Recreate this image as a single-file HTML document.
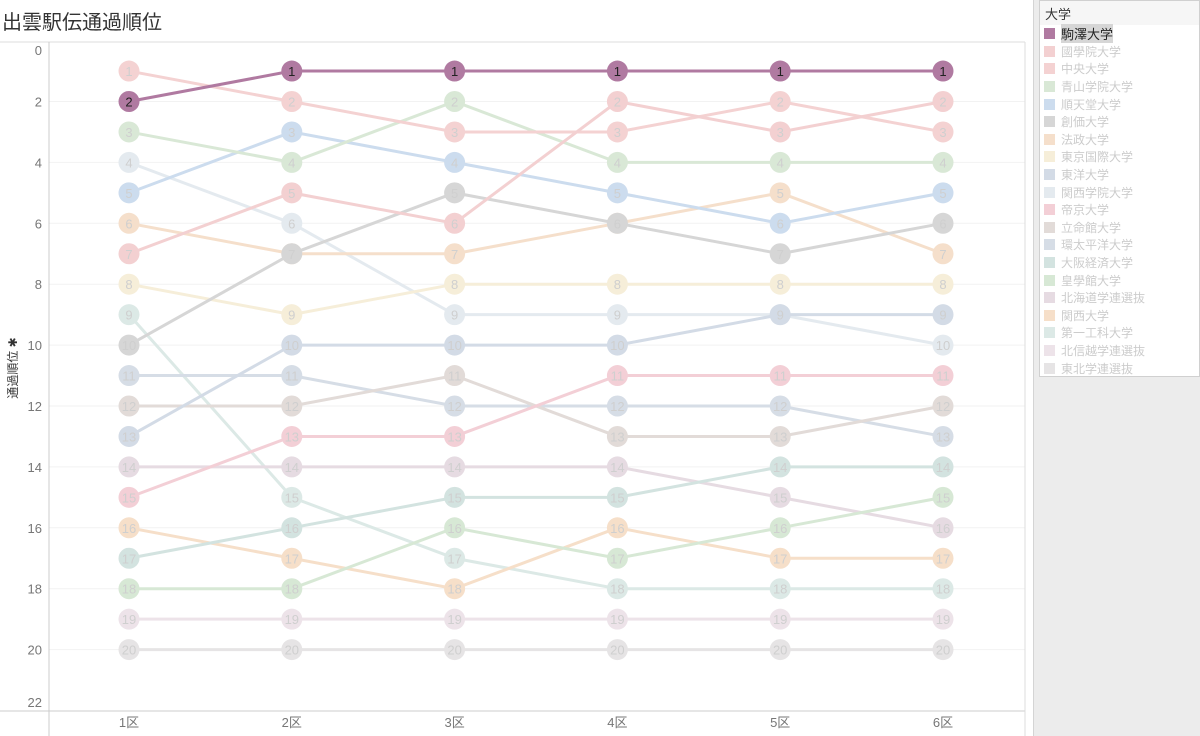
<!DOCTYPE html>
<html><head><meta charset="utf-8"><style>
body{margin:0;width:1200px;height:736px;background:#fff;overflow:hidden;font-family:"Liberation Sans","Noto Sans CJK JP",sans-serif;position:relative}
#title{position:absolute;left:2px;top:6px;font-size:20px;color:#333}
#side{position:absolute;left:1033px;top:0;width:167px;height:736px;background:#ececec;border-left:1px solid #d4d4d4}
#legend{position:absolute;left:1039px;top:0;width:161px;height:377px;background:#fff;border:1px solid #d0d0d0;box-sizing:border-box}
.lt{font-size:13px;color:#333;padding:3px 5px;background:#f6f6f6;height:18px}
.le{height:17.6px;font-size:12px;color:#ccc;display:flex;align-items:center;padding-left:4px}
.sw{width:11px;height:11px;margin-right:6px}
</style></head><body>
<div id="title">出雲駅伝通過順位</div>
<div id="side"></div>
<div id="legend"><div class="lt">大学</div><div id="legItems"></div></div>
<svg id="chart" width="1030" height="736" style="position:absolute;left:0;top:0"></svg>
<script>
const stages=["1区","2区","3区","4区","5区","6区"];
const teams=["駒澤大学","國學院大学","中央大学","青山学院大学","順天堂大学","創価大学","法政大学","東京国際大学","東洋大学","関西学院大学","帝京大学","立命館大学","環太平洋大学","大阪経済大学","皇學館大学","北海道学連選抜","関西大学","第一工科大学","北信越学連選抜","東北学連選抜"];
const ranks=[
[2,1,1,1,1,1],[7,5,6,2,3,2],[1,2,3,3,2,3],[3,4,2,4,4,4],[5,3,4,5,6,5],
[10,7,5,6,7,6],[6,7,7,6,5,7],[8,9,8,8,8,8],[13,10,10,10,9,9],[4,6,9,9,9,10],
[15,13,13,11,11,11],[12,12,11,13,13,12],[11,11,12,12,12,13],[17,16,15,15,14,14],[18,18,16,17,16,15],
[14,14,14,14,15,16],[16,17,18,16,17,17],[9,15,17,18,18,18],[19,19,19,19,19,19],[20,20,20,20,20,20]];
const colors=["#b07aa1","#f3d0d1","#f4d2d2","#d9e8d6","#ccdcee","#d6d6d6","#f5dfcb","#f6eed9","#d3dbe6","#e4eaef","#f3cfd6","#e2dbd8","#d6dde6","#d3e3e0","#d7e8d5","#e6dbe2","#f6dfc9","#dce9e6","#ede3e9","#e6e4e5"];
const yTicks=[0,2,4,6,8,10,12,14,16,18,20,22];
const ns="http://www.w3.org/2000/svg";
const svg=document.getElementById('chart');
const x=i=>129+i*162.8;
const y=v=>40.6+v*30.45;
function mk(t,a,p){const e=document.createElementNS(ns,t);for(const k in a)e.setAttribute(k,a[k]);(p||svg).appendChild(e);return e;}
let fr=mk('line',{x1:0,y1:42,x2:1025,y2:42,stroke:'#ddd'});

yTicks.forEach(t=>{
 if(t>0&&t<22){const g=mk('line',{x1:49,x2:1025,y1:y(t),y2:y(t),stroke:'#f2f2f2'});
 }
 let yy=t==0?55:(t==22?707:y(t)+5);
 const l=mk('text',{x:42,y:yy,'text-anchor':'end','font-size':13,fill:'#777'});l.textContent=t;
 
});
let ax=mk('line',{x1:49,y1:42,x2:49,y2:736,stroke:'#ccc'});

let bx=mk('line',{x1:0,y1:711,x2:1025,y2:711,stroke:'#ccc'});

let rx=mk('line',{x1:1025,y1:42,x2:1025,y2:736,stroke:'#ddd'});

stages.forEach((s,i)=>{const l=mk('text',{x:x(i),y:727,'text-anchor':'middle','font-size':13,fill:'#777'});l.textContent=s;
 });
const yt=mk('text',{x:0,y:0,'font-size':12,fill:'#333','text-anchor':'middle',transform:'translate(17,368) rotate(-90)'});yt.textContent='通過順位 ✱';

const order=[...teams.keys()].reverse();
order.forEach(k=>{
 const g=mk('g',{});
 
 const pts=ranks[k].map((r,i)=>x(i)+','+y(r)).join(' ');
 const pl=mk('polyline',{points:pts,fill:'none',stroke:colors[k],'stroke-width':3},g);
 
 ranks[k].forEach((r,i)=>{
  const c=mk('circle',{cx:x(i),cy:y(r),r:10.5,fill:colors[k]},g);
  
  const t=mk('text',{x:x(i),y:y(r)+5,'text-anchor':'middle','font-size':13,fill:k==0?'#222':'#cfcfcf'},g);t.textContent=r;
  
 });
});
const li=document.getElementById('legItems');
teams.forEach((t,k)=>{
 const d=document.createElement('div');d.className='le';
 
 
 d.innerHTML='<span class="sw" style="background:'+colors[k]+'"></span><span'+(k==0?' style="color:#222;background:#d6d6d6;font-size:13px"':'')+'>'+t+'</span>';
 li.appendChild(d);
});
</script>
</body></html>
